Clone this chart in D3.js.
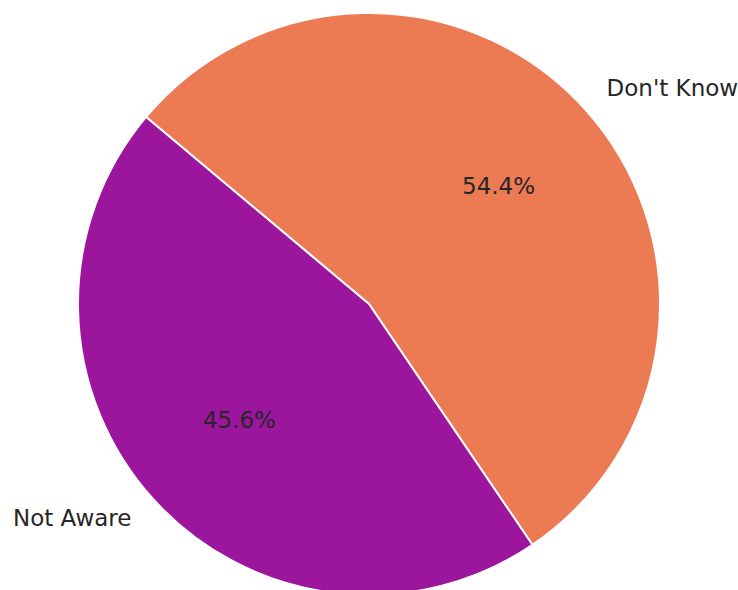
<!DOCTYPE html>
<html>
<head>
<meta charset="utf-8">
<script src="https://cdn.jsdelivr.net/npm/d3@7"></script>
<style>
  html, body { margin: 0; padding: 0; background: #ffffff; }
  svg { display: block; }
</style>
</head>
<body>
<svg id="chart" width="738" height="590"></svg>
<script>
// Awareness breakdown (percent of respondents)
const categories = ["Don't Know", "Not Aware"];
const values = [54.4, 45.6];
const colors = ["#ec7a53", "#9b169c"];

const width = 738, height = 590;
const cx = 369, cy = 304, radius = 291;
const font = "DejaVu Sans, sans-serif";
const fontSize = 23;
const textColor = "#262626";

const svg = d3.select("#chart");
const g = svg.append("g").attr("transform", `translate(${cx},${cy})`);

const color = d3.scaleOrdinal().domain(categories).range(colors);

const data = categories.map((c, i) => ({ label: c, value: values[i] }));

// Wedges run clockwise starting just left of 12 o'clock
const startDeg = -50;
const pie = d3.pie()
  .value(d => d.value)
  .sort(null)
  .startAngle(startDeg * Math.PI / 180)
  .endAngle((startDeg + 360) * Math.PI / 180);

const arcs = pie(data);
const arc = d3.arc().innerRadius(0).outerRadius(radius);

g.selectAll("path.slice")
  .data(arcs)
  .join("path")
  .attr("class", "slice")
  .attr("d", arc)
  .attr("fill", d => color(d.data.label))
  .attr("stroke", "#ffffff")
  .attr("stroke-width", 2)
  .attr("stroke-linejoin", "round");

const mid = d => (d.startAngle + d.endAngle) / 2;
const pos = (d, f) => [Math.sin(mid(d)) * radius * f, -Math.cos(mid(d)) * radius * f];

// Percentage labels inside each wedge
g.selectAll("text.pct")
  .data(arcs)
  .join("text")
  .attr("class", "pct")
  .attr("x", d => pos(d, 0.6)[0])
  .attr("y", d => pos(d, 0.6)[1] - 1)
  .attr("text-anchor", "middle")
  .attr("dominant-baseline", "central")
  .attr("font-family", font)
  .attr("font-size", fontSize)
  .attr("fill", textColor)
  .text(d => d.data.value.toFixed(1) + "%");

// Category labels outside the pie
g.selectAll("text.cat")
  .data(arcs)
  .join("text")
  .attr("class", "cat")
  .attr("x", d => pos(d, 1.1)[0])
  .attr("y", d => pos(d, 1.1)[1] - 1)
  .attr("text-anchor", d => pos(d, 1.1)[0] > 0 ? "start" : "end")
  .attr("dominant-baseline", "central")
  .attr("font-family", font)
  .attr("font-size", fontSize)
  .attr("fill", textColor)
  .text(d => d.data.label);
</script>
</body>
</html>
